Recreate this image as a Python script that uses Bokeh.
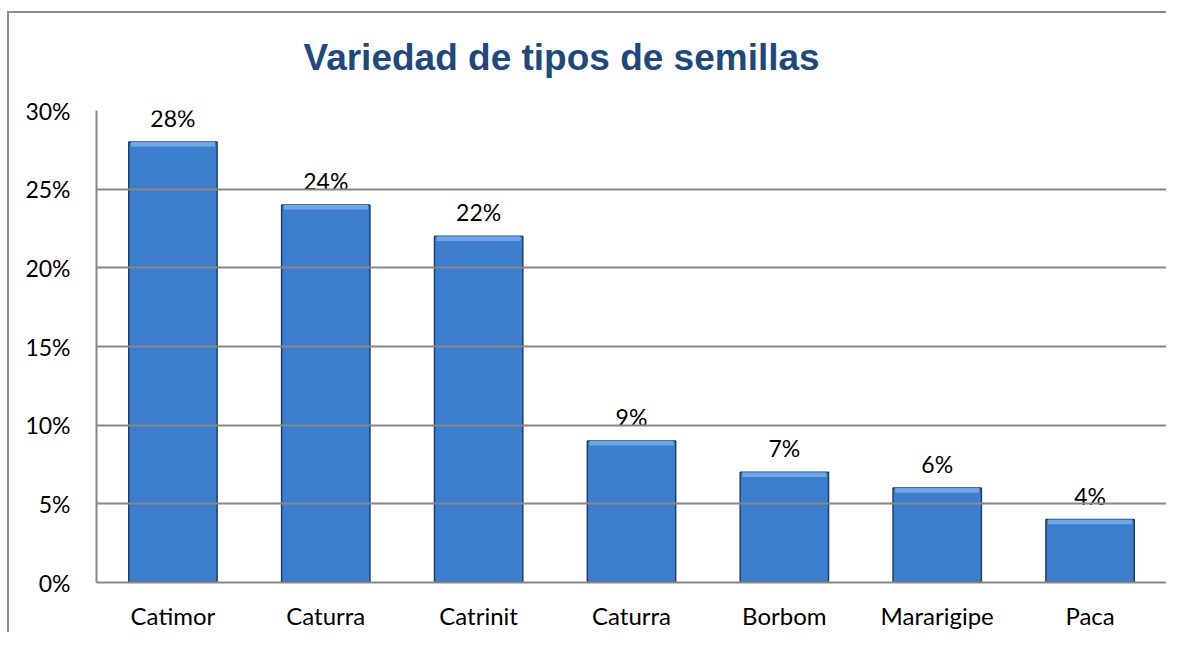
from bokeh.plotting import figure
from bokeh.models import ColumnDataSource, FixedTicker, NumeralTickFormatter, InlineStyleSheet
from bokeh.transform import dodge
from bokeh.core.properties import value
from bokeh.embed import file_html
from bokeh.resources import INLINE

categories = ["Catimor", "Caturra", "Catrinit", "Caturra", "Borbom", "Mararigipe", "Paca"]
shares = [0.28, 0.24, 0.22, 0.09, 0.07, 0.06, 0.04]
share_labels = ["28%", "24%", "22%", "9%", "7%", "6%", "4%"]
y_ticks = [0.0, 0.05, 0.10, 0.15, 0.20, 0.25, 0.30]

xs = list(range(len(categories)))
src = ColumnDataSource(data=dict(x=xs, v=shares, lab=share_labels))

FONT = "Lato"
GRID = "#878787"

p = figure(width=1166, height=632, output_backend="svg", toolbar_location=None,
           x_range=(-0.5, len(categories) - 0.5), y_range=(0, 0.30),
           min_border_left=96, min_border_top=110, min_border_bottom=40, min_border_right=0)
p.outline_line_color = None
p.background_fill_color = "white"
p.border_fill_color = "white"
p.stylesheets = [InlineStyleSheet(css=(
    ":host::after{content:'';position:absolute;left:7px;top:11px;right:0;bottom:0;"
    "border-left:2px solid #8c8c8c;border-top:2px solid #8c8c8c;pointer-events:none;}"))]

# bars: dark edge, body, light bevel on top
p.vbar(x="x", top="v", bottom=0, width=0.578, source=src,
       fill_color="#3d7dcd", line_color="#1d3f6c", line_width=1.5)
p.vbar(x="x", top="v", bottom=dodge("v", -0.003), width=0.55, source=src,
       fill_color="#6ea6e6", line_color=None)

p.text(x="x", y="v", text="lab", source=src, text_align="center", text_baseline="middle",
       y_offset=-24, text_font=value(FONT), text_font_size="23px", text_color="#000000")

p.xaxis.ticker = FixedTicker(ticks=xs)
p.xaxis.major_label_overrides = {i: c for i, c in enumerate(categories)}
p.yaxis.ticker = FixedTicker(ticks=y_ticks)
p.yaxis.formatter = NumeralTickFormatter(format="0%")

for ax in (p.xaxis[0], p.yaxis[0]):
    ax.axis_line_color = GRID
    ax.axis_line_width = 2
    ax.major_tick_line_color = None
    ax.minor_tick_line_color = None
    ax.major_label_text_font = FONT
    ax.major_label_text_font_size = "23px"
    ax.major_label_text_color = "#000000"
p.xaxis.major_label_text_font_size = "24px"
p.yaxis.major_label_standoff = 20
p.xaxis.major_label_standoff = 12

p.xgrid.grid_line_color = None
p.ygrid.ticker = FixedTicker(ticks=y_ticks)
p.ygrid.grid_line_color = GRID
p.ygrid.grid_line_width = 2
p.ygrid.level = "overlay"

p.title.text = "Variedad de tipos de semillas"
p.title.align = "left"
p.title.offset = 207
p.title.standoff = 66
p.title.text_font = "Liberation Sans"
p.title.text_font_style = "bold"
p.title.text_font_size = "37px"
p.title.text_color = "#1f497d"

open("out.html", "w").write(file_html(p, INLINE))
